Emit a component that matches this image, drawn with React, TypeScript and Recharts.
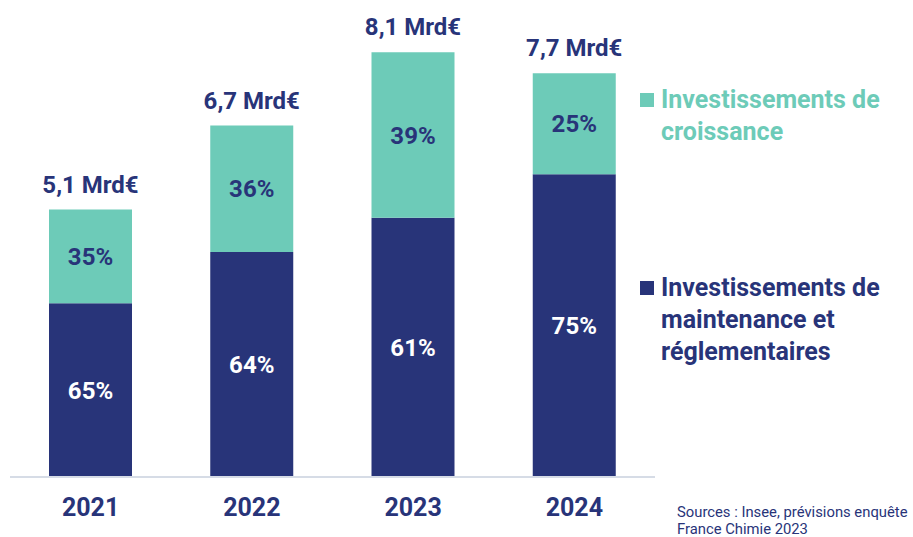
import { BarChart, Bar, XAxis, YAxis, LabelList, Legend } from 'recharts';

const years = ['2021', '2022', '2023', '2024'];
const totals = [5.1, 6.7, 8.1, 7.7];
const maintenancePct = [65, 64, 61, 75];
const croissancePct = [35, 36, 39, 25];

const NAVY = '#283479';
const TEAL = '#6DCBB8';
const FONT = 'Roboto, "Noto Sans", sans-serif';

const data = years.map((year, i) => ({
    year,
    total: totals[i],
    maintenance: (totals[i] * maintenancePct[i]) / 100,
    croissance: (totals[i] * croissancePct[i]) / 100,
    maintenancePct: maintenancePct[i],
    croissancePct: croissancePct[i],
}));

const fmtTotal = (v: number) => `${v.toFixed(1).replace('.', ',')} Mrd€`;

const TotalLabel = (props: any) => {
    const { x, y, width, index } = props;
    return (
        <text
            x={x + width / 2}
            y={y - 25}
            textAnchor="middle"
            dominantBaseline="central"
            fill={NAVY}
            fontSize={24}
            fontWeight={700}
            fontFamily={FONT}
        >
            {fmtTotal(totals[index])}
        </text>
    );
};

const square = (color: string) => (
    <span style={{ display: 'inline-block', width: 14, height: 14, background: color, marginTop: 9, marginRight: 7, flex: 'none' }} />
);

const LegendBox: React.FC = () => (
    <div style={{ fontFamily: FONT, fontWeight: 700, fontSize: 25, lineHeight: '32px' }}>
        <div style={{ position: 'absolute', left: 0, top: 0, width: 270, color: TEAL, display: 'flex' }}>
            {square(TEAL)}
            <span>Investissements de<br />croissance</span>
        </div>
        <div style={{ position: 'absolute', left: 0, top: 188, width: 270, color: NAVY, display: 'flex' }}>
            {square(NAVY)}
            <span>Investissements de<br />maintenance et<br />réglementaires</span>
        </div>
    </div>
);

export default function App() {
    return (
        <div style={{ position: 'absolute', left: 0, top: 0, width: 913, height: 537, background: '#fff', overflow: 'hidden' }}>
            <BarChart
                width={913}
                height={537}
                data={data}
                margin={{ top: 5, right: 258, left: 10, bottom: 0 }}
            >
                <XAxis
                    dataKey="year"
                    height={60}
                    tickLine={false}
                    axisLine={{ stroke: '#D6DCE6', strokeWidth: 2 }}
                    tick={{ fill: NAVY, fontSize: 25, fontWeight: 700, fontFamily: FONT }}
                    tickMargin={15}
                />
                <YAxis hide domain={[0, 9]} />
                <Bar dataKey="maintenance" stackId="a" fill={NAVY} barSize={83} isAnimationActive={false}>
                    <LabelList
                        dataKey="maintenancePct"
                        position="center"
                        formatter={(v: any) => `${v}%`}
                        style={{ fill: '#fff', fontSize: 24, fontWeight: 700, fontFamily: FONT }}
                    />
                </Bar>
                <Bar dataKey="croissance" stackId="a" fill={TEAL} barSize={83} isAnimationActive={false}>
                    <LabelList
                        dataKey="croissancePct"
                        position="center"
                        formatter={(v: any) => `${v}%`}
                        style={{ fill: NAVY, fontSize: 24, fontWeight: 700, fontFamily: FONT }}
                    />
                    <LabelList dataKey="total" content={<TotalLabel />} />
                </Bar>
                <Legend
                    content={() => <LegendBox />}
                    wrapperStyle={{ position: 'absolute', left: 640, top: 84, width: 273 }}
                />
            </BarChart>
            <div
                style={{
                    position: 'absolute',
                    left: 677,
                    top: 504,
                    fontFamily: FONT,
                    fontSize: 14.8,
                    lineHeight: '17px',
                    color: NAVY,
                    whiteSpace: 'nowrap',
                }}
            >
                Sources : Insee, prévisions enquête
                <br />
                France Chimie 2023
            </div>
        </div>
    );
}
